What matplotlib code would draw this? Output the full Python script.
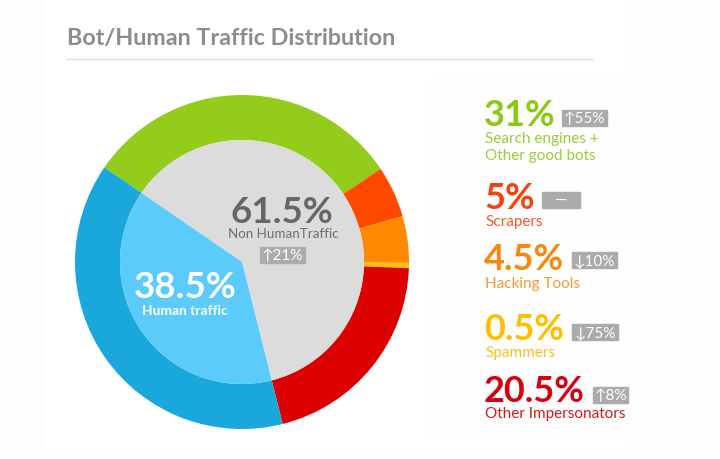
import matplotlib
matplotlib.use("Agg")
import matplotlib.pyplot as plt
from matplotlib.patches import Rectangle

plt.rcParams["font.family"] = ["Lato", "DejaVu Sans"]

# outer ring: bot categories then human, clockwise from upper left
ring_names = ["Search engines +\nOther good bots", "Scrapers", "Hacking Tools",
              "Spammers", "Other Impersonators", "Human traffic"]
ring_values = [31, 5, 4.5, 0.5, 20.5, 38.5]
ring_colors = ["#94cc1c", "#ff4800", "#ff8a00", "#ffc20e", "#dc0000", "#1aa7dc"]

# inner pie
inner_names = ["Non HumanTraffic", "Human traffic"]
inner_values = [61.5, 38.5]
inner_colors = ["#dcdcdc", "#5bcbfc"]
inner_change = "\u219121%"

# legend column
legend_pct = ["31%", "5%", "4.5%", "0.5%", "20.5%"]
legend_change = ["\u219155%", "\u2014", "\u219310%", "\u219375%", "\u21918%"]
legend_pct_colors = ["#8cc914", "#f5420e", "#f7880f", "#ffbf00", "#d70010"]
legend_lbl_colors = ["#9ccc3c", "#ee5a2a", "#f29a36", "#f5c022", "#d01a1a"]

H = 460
def Y(y):
    return H - y

fig = plt.figure(figsize=(7.2, 4.6), dpi=100)
fig.patch.set_facecolor("#fdfdfd")
ax = fig.add_axes([0, 0, 1, 1])

# background cards
ax.add_patch(Rectangle((43, Y(455)), 580, 455, color="white", zorder=0))
ax.add_patch(Rectangle((430, Y(440)), 226, 360, color="#fefefe", zorder=0.5))

cx, cy = 242, Y(263)
ax.pie(ring_values, radius=167, center=(cx, cy), startangle=145.5,
       counterclock=False, colors=ring_colors,
       wedgeprops=dict(width=45, linewidth=0))
ax.pie(inner_values, radius=122, center=(cx, cy), startangle=145.5,
       counterclock=False, colors=inner_colors,
       wedgeprops=dict(linewidth=0))

ax.set_xlim(0, 720)
ax.set_ylim(0, 460)
ax.set_aspect("equal")
ax.axis("off")

# title and rule
ax.text(67, Y(45), "Bot/Human Traffic Distribution", fontsize=16.8,
        fontweight="bold", color="#8c8c8c", va="baseline")
ax.plot([67, 592], [Y(60), Y(60)], color="#dedede", lw=1)


def badge(x0, y_top, w, h, txt, fs=11):
    ax.add_patch(Rectangle((x0, Y(y_top + h)), w, h, color="#ababab", zorder=5))
    ax.text(x0 + w / 2, Y(y_top + h / 2), txt, fontsize=fs, color="white",
            ha="center", va="center", zorder=6)


# centre labels
ax.text(282, Y(223), "61.5%", fontsize=26.5, fontweight="bold", color="#666666",
        ha="center", va="baseline")
ax.text(283, Y(238), inner_names[0], fontsize=9.6, color="#6e6e6e",
        ha="center", va="baseline")
badge(260, 248, 45, 16, inner_change)

ax.text(185, Y(298), "38.5%", fontsize=26.5, fontweight="bold", color="white",
        ha="center", va="baseline")
ax.text(185, Y(315), inner_names[1], fontsize=9.9, fontweight="bold",
        color="white", ha="center", va="baseline")

# legend column
pct_base = [126, 209, 270, 340, 402]
lbl_base = [143, 226, 288, 357, 418]
badge_box = [(562, 111, 45), (542, 193, 38), (572, 253, 45),
             (572, 325, 46), (593, 388, 35)]
for i in range(len(legend_pct)):
    ax.text(484, Y(pct_base[i]), legend_pct[i], fontsize=26, fontweight="bold",
            color=legend_pct_colors[i], va="baseline")
    lines = ring_names[i].split("\n")
    for j, ln in enumerate(lines):
        ax.text(485, Y(lbl_base[i] + 17 * j), ln, fontsize=11,
                color=legend_lbl_colors[i], va="baseline")
    bx, by, bw = badge_box[i]
    badge(bx, by, bw, 16, legend_change[i])

fig.savefig("out.png", dpi=100)
